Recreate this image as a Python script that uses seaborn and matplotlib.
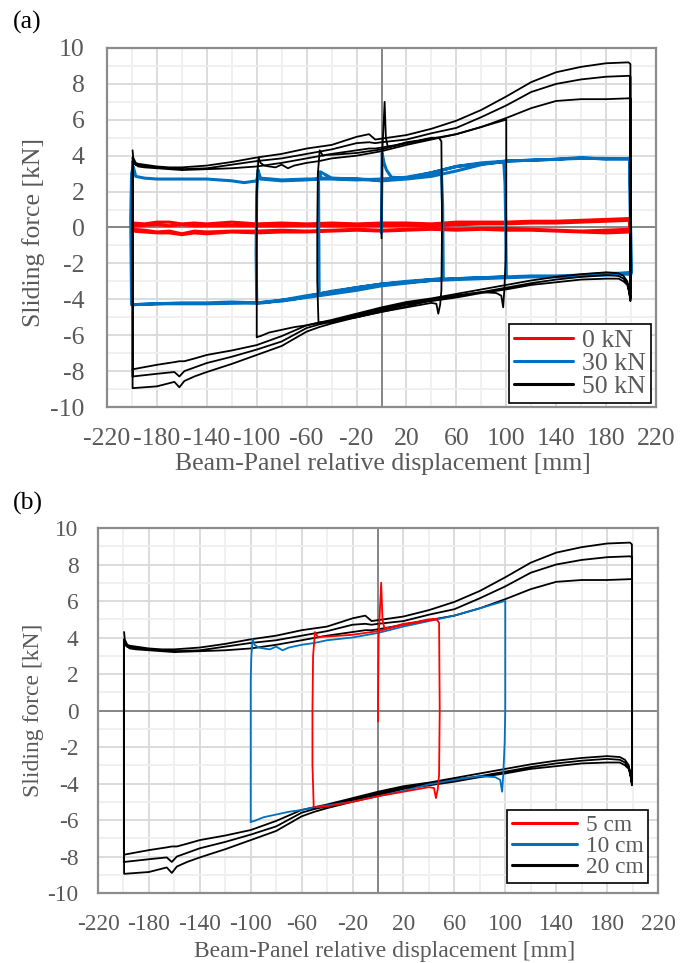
import numpy as np
import pandas as pd
import seaborn as sns
import matplotlib.pyplot as plt
from matplotlib.lines import Line2D

# ---------------- data ----------------
# 20 cm cycles (three loops, 50 kN)
up20_x = [-199.5, -199, -197, -195, -190, -180, -170, -160, -140, -120, -100, -80, -60, -40,
          -20, -10, -5, 0, 20, 40, 60, 80, 100, 120, 140, 160, 180, 198, 199.5]
up20_y1 = [4.3, 3.9, 3.6, 3.55, 3.5, 3.4, 3.35, 3.35, 3.45, 3.65, 3.9, 4.1, 4.4, 4.6,
           5.05, 5.2, 4.9, 4.95, 5.15, 5.5, 5.95, 6.55, 7.3, 8.1, 8.65, 8.95, 9.15, 9.2, 9.1]
up20_y2 = [3.9, 3.7, 3.5, 3.45, 3.4, 3.35, 3.3, 3.25, 3.3, 3.5, 3.7, 3.85, 4.1, 4.35,
           4.7, 4.75, 4.7, 4.75, 4.9, 5.25, 5.55, 6.15, 6.8, 7.55, 8.0, 8.25, 8.4, 8.45, 8.4]
up20_y3 = [3.7, 3.6, 3.5, 3.4, 3.35, 3.3, 3.25, 3.2, 3.25, 3.3, 3.4, 3.6, 3.85, 4.1,
           4.3, 4.4, 4.4, 4.45, 4.7, 4.95, 5.2, 5.6, 6.1, 6.65, 7.05, 7.15, 7.15, 7.2, 7.2]
lo20_x = [199.5, 198.5, 197, 194, 190, 180, 160, 140, 120, 100, 80, 60, 40, 20, 0, -20,
          -40, -50, -60, -80, -100, -120, -140, -150, -158, -162, -166, -180, -199.5]
lo20_y1 = [-4.1, -3.6, -3.0, -2.7, -2.55, -2.5, -2.6, -2.75, -2.95, -3.2, -3.45, -3.7, -3.95,
           -4.15, -4.45, -4.8, -5.15, -5.3, -5.45, -6.05, -6.55, -6.85, -7.1, -7.3, -7.45,
           -7.45, -7.5, -7.65, -7.9]
lo20_y2 = [-3.9, -3.5, -3.1, -2.85, -2.7, -2.65, -2.75, -2.9, -3.1, -3.35, -3.6, -3.8, -4.05,
           -4.25, -4.55, -4.9, -5.25, -5.4, -5.6, -6.35, -6.8, -7.2, -7.55, -7.8, -8.0,
           -8.3, -8.05, -8.15, -8.3]
lo20_y3 = [-4.0, -3.6, -3.2, -3.0, -2.85, -2.85, -2.9, -3.05, -3.2, -3.45, -3.65, -3.9, -4.1,
           -4.3, -4.65, -5.0, -5.35, -5.55, -5.8, -6.6, -7.1, -7.6, -8.05, -8.3, -8.55,
           -8.9, -8.6, -8.85, -8.95]

# 10 cm cycle
up10_x = [-100, -100, -99.5, -98.5, -97, -94, -90, -85, -80, -75, -70, -60, -50, -40,
          -20, 0, 20, 40, 60, 80, 97, 99.5]
up10_y = [-6.1, 1.7, 3.0, 3.9, 3.6, 3.45, 3.4, 3.35, 3.5, 3.3, 3.45, 3.6, 3.7, 3.85,
          4.0, 4.25, 4.6, 4.9, 5.2, 5.6, 5.95, 6.0]
lo10_x = [100, 100, 99.5, 98.5, 97.5, 96, 92, 80, 60, 40, 20, 0, -20, -40, -50, -60,
          -70, -80, -90, -97, -100]
lo10_y = [6.0, 0.0, -1.8, -3.4, -4.45, -3.8, -3.65, -3.6, -3.8, -4.05, -4.4, -4.7, -5.0,
          -5.2, -5.3, -5.45, -5.55, -5.7, -5.85, -6.05, -6.1]

# 5 cm cycle (starts at the origin with the static peak)
c5_x = [0, 0, 0.5, 2.5, 3.5, 5, 10, 20, 30, 40, 46, 48, 48.5, 48, 47, 45.5, 44, 40, 20,
        0, -20, -40, -48, -50.5, -51.5, -51.5, -51, -49.5, -47, -44, -40, -20, 0, 20, 40, 46]
c5_y = [-0.6, 0.5, 4.0, 7.0, 5.0, 4.5, 4.55, 4.75, 4.85, 5.0, 5.0, 4.8, 0.0, -3.5, -4.3,
        -4.8, -4.25, -4.2, -4.45, -4.7, -5.0, -5.25, -5.3, -5.3, -3.0, 0.0, 3.0, 4.3, 4.0,
        4.05, 4.05, 4.15, 4.35, 4.7, 4.95, 5.0]

# 30 kN
b30_x = [0, 0, 0.5, 2, 4, 8, 20, 35, 48, 49, 49.5, 40, 20, 0, -20, -40, -50, -50.5, -48,
         -20, 0, 20, 40, 60, 80, 98, 99, 99.5, 100, 80, 60, 40, 20, 0, -20, -40, -60,
         -80, -95, -100, -100.5, -100, -99, -97, -80, -60, -50, -40, -20, 0, 20, 40, 60,
         80, 100, 120, 140, 160, 180, 199, 200, 190, 180, 160, 140, 120, 100, 80, 60, 40,
         20, 0, -20, -40, -60, -70, -80, -100, -120, -140, -160, -180, -199, -200.3, -201,
         -200.3, -199, -197, -190, -180, -160, -140, -120, -110, -100, -99, -97, -80, -60,
         -51, -49, -40, -20, 0, 20, 40, 60, 80, 100, 120, 140, 160, 180, 199, 200, 190,
         180, 160, 140, 120, 100, 80, 60, 40, 20, 0, -20, -40, -60, -80, -100, -140,
         -180, -199]
b30_y = [-0.3, 1.0, 4.15, 3.6, 3.2, 2.8, 2.75, 2.9, 3.15, 1.2, -2.85, -2.9, -3.0, -3.15,
         -3.35, -3.6, -3.7, 3.1, 2.75, 2.7, 2.65, 2.75, 3.05, 3.4, 3.55, 3.65, 2.45, 0.4,
         -2.75, -2.8, -2.85, -2.9, -3.05, -3.2, -3.4, -3.6, -3.8, -4.05, -4.2, -4.2, -1.4,
         2.0, 3.2, 2.75, 2.65, 2.7, 2.7, 2.7, 2.65, 2.7, 2.8, 3.05, 3.4, 3.6, 3.7, 3.75,
         3.8, 3.85, 3.85, 3.8, -2.5, -2.55, -2.55, -2.65, -2.7, -2.7, -2.75, -2.8, -2.85,
         -2.95, -3.05, -3.15, -3.35, -3.55, -3.85, -4.0, -4.1, -4.2, -4.15, -4.2, -4.2,
         -4.25, -4.3, -4.3, 0.5, 3.0, 3.4, 2.85, 2.75, 2.7, 2.7, 2.7, 2.6, 2.5, 2.6, 3.0,
         2.7, 2.6, 2.65, 2.7, 3.1, 2.75, 2.7, 2.6, 2.7, 2.85, 3.15, 3.5, 3.7, 3.75, 3.8,
         3.9, 3.8, 3.85, -2.6, -2.6, -2.65, -2.7, -2.75, -2.75, -2.8, -2.85, -2.9, -2.95,
         -3.1, -3.25, -3.5, -3.7, -3.9, -4.05, -4.2, -4.25, -4.25, -4.3]

# 0 kN
r0_up_x = [-199, -190, -180, -170, -160, -150, -140, -120, -100, -80, -60, -40, -20, 0,
           20, 40, 60, 80, 100, 120, 140, 160, 180, 199]
r0_up_y1 = [0.25, 0.2, 0.3, 0.3, 0.2, 0.25, 0.2, 0.3, 0.2, 0.25, 0.2, 0.25, 0.2, 0.25,
            0.25, 0.2, 0.3, 0.3, 0.3, 0.35, 0.35, 0.4, 0.45, 0.5]
r0_up_y2 = [0.1, 0.12, 0.15, 0.1, 0.15, 0.1, 0.1, 0.12, 0.1, 0.1, 0.12, 0.1, 0.1, 0.1,
            0.12, 0.1, 0.15, 0.2, 0.2, 0.25, 0.25, 0.3, 0.35, 0.4]
r0_lo_x = [199, 180, 160, 140, 120, 100, 80, 60, 40, 20, 0, -20, -40, -60, -80, -100,
           -120, -140, -150, -160, -170, -180, -190, -199]
r0_lo_y1 = [-0.1, -0.15, -0.2, -0.15, -0.1, -0.05, -0.05, -0.1, -0.05, -0.1, -0.15, -0.1,
            -0.15, -0.2, -0.15, -0.2, -0.2, -0.25, -0.2, -0.35, -0.2, -0.25, -0.15, -0.1]
r0_lo_y2 = [-0.25, -0.3, -0.25, -0.2, -0.15, -0.15, -0.1, -0.15, -0.1, -0.15, -0.2, -0.15,
            -0.2, -0.25, -0.25, -0.3, -0.25, -0.35, -0.3, -0.4, -0.3, -0.3, -0.25, -0.2]

# ---------------- assemble paths ----------------
path20_x = up20_x + lo20_x + up20_x + lo20_x + up20_x + lo20_x
path20_y = up20_y1 + lo20_y3 + up20_y2 + lo20_y2 + up20_y3 + lo20_y1
path10_x = up10_x + lo10_x
path10_y = up10_y + lo10_y
path0_x = r0_up_x + r0_lo_x + r0_up_x + r0_lo_x
path0_y = r0_up_y1 + r0_lo_y1 + r0_up_y2 + r0_lo_y2


def frame(segments, label):
    parts = []
    for i, (xs, ys) in enumerate(segments):
        parts.append(pd.DataFrame({'x': xs, 'y': ys, 'series': label, 'unit': i}))
    return pd.concat(parts, ignore_index=True)


panel_a = [
    (frame([(path0_x, path0_y)], '0 kN'), '#FF0000', 2.2),
    (frame([(b30_x, b30_y)], '30 kN'), '#0070C0', 2.2),
    (frame([(c5_x, c5_y), (path10_x, path10_y), (path20_x, path20_y)], '50 kN'), '#000000', 1.3),
]
panel_b = [
    (frame([(path20_x, path20_y)], '20 cm'), '#000000', 1.3),
    (frame([(path10_x, path10_y)], '10 cm'), '#0070C0', 1.3),
    (frame([(c5_x, c5_y)], '5 cm'), '#FF0000', 1.3),
]

sns.set_style('white')
plt.rcParams['font.family'] = ['Liberation Serif', 'DejaVu Serif']
plt.rcParams['axes.unicode_minus'] = False

fig = plt.figure(figsize=(6.93, 9.63), dpi=100)
ax_a = fig.add_axes([107 / 693, 1 - 407 / 963, 549 / 693, 359 / 963])
ax_b = fig.add_axes([98 / 693, 1 - 893 / 963, 560 / 693, 365 / 963])

grey = '#595959'


def style(ax, fs, ypad, xpad):
    ax.set_xlim(-220, 220)
    ax.set_ylim(-10, 10)
    ax.set_xticks(np.arange(-220, 221, 40))
    ax.set_xticks(np.arange(-200, 201, 40), minor=True)
    ax.set_yticks(np.arange(-10, 11, 2))
    ax.set_yticks(np.arange(-9, 10, 2), minor=True)
    ax.grid(which='major', color='#d9d9d9', lw=1.3)
    ax.grid(which='minor', color='#efefef', lw=1.3)
    ax.set_axisbelow(True)
    ax.tick_params(which='both', length=0, labelsize=fs, labelcolor=grey)
    ax.tick_params(axis='y', pad=ypad)
    ax.tick_params(axis='x', pad=xpad)
    for s in ax.spines.values():
        s.set_color('#8c8c8c')
        s.set_linewidth(1.6)
    ax.axhline(0, color='#868686', lw=1.4, zorder=1.5)
    ax.axvline(0, color='#868686', lw=1.4, zorder=1.5)


for ax, series, fs, ypad, xpad in [(ax_a, panel_a, 18.5, 16, 15), (ax_b, panel_b, 16.8, 14, 15)]:
    style(ax, fs, ypad, xpad)
    for df, col, lw in series:
        sns.lineplot(data=df, x='x', y='y', units='unit', estimator=None, sort=False,
                     color=col, linewidth=lw, ax=ax, legend=False)

# axis labels
ax_a.set_xlabel('Beam-Panel relative displacement [mm]', fontsize=18.5, color=grey, va='center')
ax_a.xaxis.set_label_coords(0.503, -0.159)
ax_a.set_ylabel('Sliding force [kN]', fontsize=18.5, color=grey, va='center')
ax_a.yaxis.set_label_coords(-0.133, 0.487)
ax_b.set_xlabel('Beam-Panel relative displacement [mm]', fontsize=17, color=grey, va='center')
ax_b.xaxis.set_label_coords(0.5125, -0.159)
ax_b.set_ylabel('Sliding force [kN]', fontsize=17, color=grey, va='center')
ax_b.yaxis.set_label_coords(-0.116, 0.5)


# legends
def legend(ax, items, anchor, fs, hl):
    handles = [Line2D([], [], color=c, lw=2.2) for _, c in items]
    leg = ax.legend(handles, [t for t, _ in items], loc='lower right', bbox_to_anchor=anchor,
                    fontsize=fs, labelcolor=grey, frameon=True, fancybox=False,
                    edgecolor='black', framealpha=1, handlelength=hl, handletextpad=0.35,
                    labelspacing=0.0, borderpad=0.2, borderaxespad=0)
    leg.get_frame().set_linewidth(1.2)


legend(ax_a, [('0 kN', '#FF0000'), ('30 kN', '#0070C0'), ('50 kN', '#000000')],
       (0.991, 0.011), 18.5, 2.3)
legend(ax_b, [('5 cm', '#FF0000'), ('10 cm', '#0070C0'), ('20 cm', '#000000')],
       (0.982, 0.027), 16.8, 2.8)

fig.text(13 / 693, 1 - 11 / 963, '(a)', fontsize=18.5, va='top', ha='left', color='black')
fig.text(13 / 693, 1 - 492 / 963, '(b)', fontsize=18.5, va='top', ha='left', color='black')

fig.savefig('out.png', dpi=100)
